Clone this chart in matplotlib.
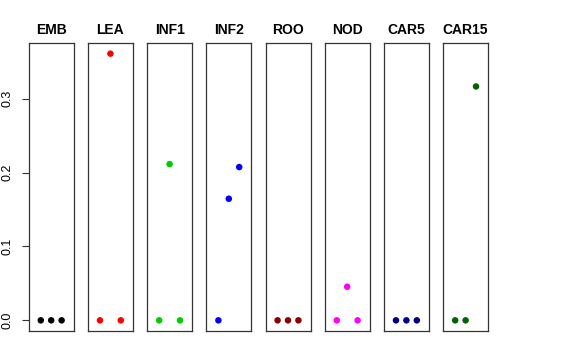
import matplotlib
matplotlib.use("Agg")
import matplotlib.pyplot as plt

plt.rcParams['font.family'] = ['Liberation Sans', 'DejaVu Sans']

tissues = ["EMB", "LEA", "INF1", "INF2", "ROO", "NOD", "CAR5", "CAR15"]
colors = ["#000000", "#FF0000", "#00CD00", "#0000FF", "#8B0000", "#FF00FF", "#00008B", "#006400"]
x_pos = [1, 2, 3]
values = {
    "EMB":   [0.0, 0.0, 0.0],
    "LEA":   [0.0, 0.361, 0.0],
    "INF1":  [0.0, 0.2115, 0.0],
    "INF2":  [0.0, 0.1646, 0.2075],
    "ROO":   [0.0, 0.0, 0.0],
    "NOD":   [0.0, 0.0455, 0.0],
    "CAR5":  [0.0, 0.0, 0.0],
    "CAR15": [0.0, 0.0, 0.3166],
}
yticks = [0.0, 0.1, 0.2, 0.3]
ytick_labels = ["0.0", "0.1", "0.2", "0.3"]

W, H = 576, 360
fig = plt.figure(figsize=(W / 100, H / 100), dpi=100)

ymax = max(max(v) for v in values.values())
ypad = 0.04 * ymax
lefts = [28.7, 87.9, 147.1, 206.3, 265.5, 324.7, 383.9, 443.1]
pw = 45.0
top, bottom = 43, 331

for i, (t, c) in enumerate(zip(tissues, colors)):
    ax = fig.add_axes([lefts[i] / W, 1 - bottom / H, pw / W, (bottom - top) / H])
    ax.scatter(x_pos, values[t], s=22, color=c, edgecolors='none', zorder=3)
    ax.set_xlim(-0.16, 4.16)
    ax.set_ylim(-ypad, ymax + ypad)
    ax.set_xticks([])
    ax.set_title(t, fontsize=10, fontweight='bold', pad=6.5)
    for sp in ax.spines.values():
        sp.set_linewidth(0.9)
        sp.set_color('#333333')
    if i == 0:
        ax.set_yticks(yticks)
        ax.set_yticklabels(ytick_labels, rotation=90, va='center', fontsize=9)
        ax.tick_params(axis='y', length=5, width=0.8, pad=6, colors='#333333', labelcolor='black')
    else:
        ax.set_yticks([])

fig.savefig("out.png", dpi=100)
